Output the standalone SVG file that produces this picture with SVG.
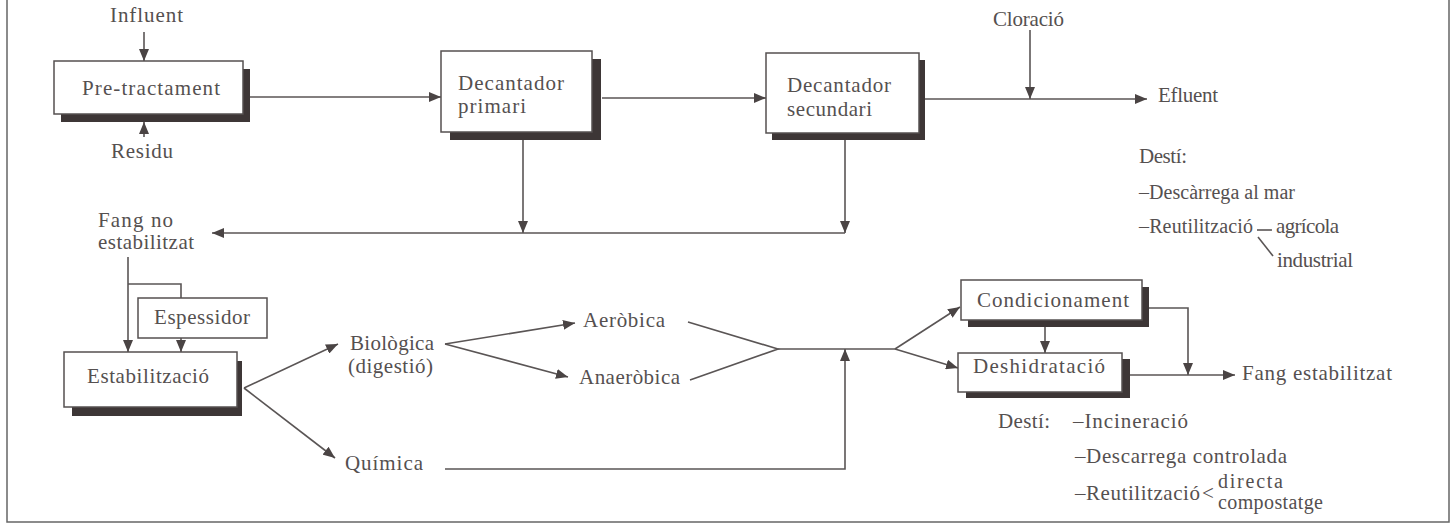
<svg xmlns="http://www.w3.org/2000/svg" width="1456" height="529" viewBox="0 0 1456 529">
<style>
text{font-family:"Liberation Serif","Times New Roman",serif;font-size:21px;fill:#555050}
.sm{font-size:20px}
.box{fill:#fff;stroke:#555050;stroke-width:1.5}
.sh{fill:#3d3636}
.ln{fill:none;stroke:#5a5555;stroke-width:1.6}
.ar{marker-end:url(#ah)}
</style>
<defs>
<marker id="ah" viewBox="0 0 12 10" refX="12" refY="5" markerWidth="12" markerHeight="10" markerUnits="userSpaceOnUse" orient="auto"><path d="M0,0 L12,5 L0,10 z" fill="#4a4444"/></marker>
</defs>
<rect width="1456" height="529" fill="#fff"/>
<path d="M7,0 V522 H1449 V0" fill="none" stroke="#666" stroke-width="1.5"/>

<g id="connectors">
<line class="ln ar" x1="144" y1="32" x2="144" y2="61"/>
<line class="ln ar" x1="144" y1="137" x2="144" y2="122"/>
<line class="ln ar" x1="250" y1="97" x2="441" y2="97"/>
<line class="ln ar" x1="602" y1="98" x2="766" y2="98"/>
<line class="ln ar" x1="925" y1="99" x2="1147" y2="99"/>
<line class="ln ar" x1="1030" y1="30" x2="1030" y2="99"/>
<line class="ln ar" x1="523" y1="140" x2="523" y2="233"/>
<line class="ln ar" x1="845" y1="140" x2="845" y2="233"/>
<line class="ln ar" x1="845" y1="233" x2="212" y2="233"/>
<line class="ln ar" x1="128" y1="257" x2="128" y2="352"/>
<polyline class="ln" points="128,284 181,284 181,298"/>
<line class="ln ar" x1="181" y1="338" x2="181" y2="352"/>
<line class="ln ar" x1="244" y1="388" x2="338" y2="344"/>
<line class="ln ar" x1="244" y1="388" x2="335" y2="458"/>
<line class="ln ar" x1="445" y1="344" x2="575" y2="323"/>
<line class="ln ar" x1="445" y1="344" x2="568" y2="377"/>
<polyline class="ln" points="688,322 778,349 690,380"/>
<line class="ln" x1="778" y1="349" x2="895" y2="349"/>
<polyline class="ln ar" points="445,469 845,469 845,349"/>
<line class="ln ar" x1="895" y1="349" x2="960" y2="307"/>
<line class="ln ar" x1="895" y1="349" x2="958" y2="368"/>
<line class="ln ar" x1="1045" y1="327" x2="1045" y2="353"/>
<polyline class="ln ar" points="1149,308 1188,308 1188,375"/>
<line class="ln ar" x1="1130" y1="375" x2="1235" y2="375"/>
<line class="ln" x1="1257" y1="230" x2="1272" y2="230"/>
<line class="ln" x1="1258" y1="237" x2="1273" y2="256"/>
</g>

<g id="influent"><text x="110" y="22" textLength="73">Influent</text></g>
<g id="residu"><text x="111" y="158" textLength="62">Residu</text></g>
<g id="pretractament">
<rect class="sh" x="61" y="69" width="189" height="53"/>
<rect class="box" x="54" y="61" width="189" height="53"/>
<text x="82" y="95" textLength="138">Pre-tractament</text>
</g>
<g id="decantador-primari">
<rect class="sh" x="450" y="59" width="151" height="81"/>
<rect class="box" x="441" y="51" width="151" height="81"/>
<text x="458" y="90" textLength="106">Decantador</text>
<text x="458" y="113" textLength="68">primari</text>
</g>
<g id="decantador-secundari">
<rect class="sh" x="772" y="60" width="153" height="80"/>
<rect class="box" x="766" y="53" width="153" height="80"/>
<text x="787" y="92" textLength="104">Decantador</text>
<text x="787" y="116" textLength="85">secundari</text>
</g>
<g id="cloracio"><text x="993" y="26" textLength="71">Cloració</text></g>
<g id="efluent"><text x="1158" y="102" textLength="60">Efluent</text></g>
<g id="desti-efluent">
<text x="1139" y="163" textLength="48">Destí:</text>
<text x="1139" y="199" class="sm" textLength="156">–Descàrrega al mar</text>
<text x="1139" y="233" class="sm" textLength="114">–Reutilització</text>
<text x="1276" y="233" textLength="63">agrícola</text>
<text x="1277" y="267" textLength="76">industrial</text>
</g>
<g id="fang-no-estabilitzat">
<text x="98" y="227" textLength="75">Fang no</text>
<text x="98" y="249" textLength="96">estabilitzat</text>
</g>
<g id="espessidor">
<rect class="box" x="138" y="298" width="129" height="40"/>
<text x="154" y="324" textLength="96">Espessidor</text>
</g>
<g id="estabilitzacio">
<rect class="sh" x="72" y="361" width="170" height="55"/>
<rect class="box" x="64" y="352" width="173" height="55"/>
<text x="87" y="383" textLength="122">Estabilització</text>
</g>
<g id="biologica">
<text x="350" y="350" textLength="84">Biològica</text>
<text x="348" y="373" textLength="85">(digestió)</text>
</g>
<g id="quimica"><text x="345" y="470" textLength="78">Química</text></g>
<g id="aerobica"><text x="583" y="327" textLength="82">Aeròbica</text></g>
<g id="anaerobica"><text x="579" y="384" textLength="101">Anaeròbica</text></g>
<g id="condicionament">
<rect class="sh" x="968" y="287" width="181" height="40"/>
<rect class="box" x="961" y="280" width="181" height="40"/>
<text x="977" y="307" textLength="152">Condicionament</text>
</g>
<g id="deshidratacio">
<rect class="sh" x="966" y="359" width="164" height="39"/>
<rect class="box" x="958" y="353" width="164" height="39"/>
<text x="973" y="373" textLength="132">Deshidratació</text>
</g>
<g id="fang-estabilitzat"><text x="1242" y="380" textLength="150">Fang estabilitzat</text></g>
<g id="desti-fang">
<text x="998" y="428" textLength="52">Destí:</text>
<text x="1073" y="428" textLength="115">–Incineració</text>
<text x="1075" y="463" textLength="212">–Descarrega controlada</text>
<text x="1075" y="500" textLength="125">–Reutilització</text>
<text x="1202" y="500">&lt;</text>
<text class="sm" x="1218" y="488" textLength="65">directa</text>
<text class="sm" x="1218" y="509" textLength="105">compostatge</text>
</g>
</svg>
